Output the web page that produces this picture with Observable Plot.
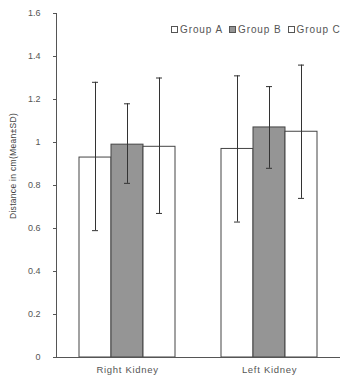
<!DOCTYPE html>
<html>
<head>
<meta charset="utf-8">
<script src="https://cdn.jsdelivr.net/npm/d3@7"></script>
<script src="https://cdn.jsdelivr.net/npm/@observablehq/plot@0.6"></script>
<style>
  html, body { margin: 0; padding: 0; background: #fff; }
  #wrap { position: relative; width: 345px; height: 381px; overflow: hidden; }
  #legend { position: absolute; top: 24px; left: 171px; font: 10px "Liberation Sans", Arial, sans-serif; letter-spacing: 0.9px; color: #555; white-space: nowrap; display: flex; align-items: center; }
  #legend span.sw { display: inline-block; width: 7px; height: 7px; border: 1px solid #555; margin-right: 2px; box-sizing: border-box; }
  #legend span.item { display: inline-flex; align-items: center; margin-right: 6px; }
  #ylabel { position: absolute; left: 13px; top: 166px; transform: translate(-50%, -50%) rotate(-90deg); font: 8.5px "Liberation Sans", Arial, sans-serif; letter-spacing: 0.3px; color: #444; white-space: nowrap; }
  svg [aria-label="fx-axis tick label"] { font-size: 9.5px; letter-spacing: 0.7px; }
</style>
</head>
<body>
<div id="wrap"><div id="legend"></div><div id="ylabel"></div></div>
<script>
const kidneys = ["Right Kidney", "Left Kidney"];
const groups = ["Group A", "Group B", "Group C"];
const groupFills = ["#ffffff", "#959595", "#ffffff"];
const rightMean = [0.93, 0.99, 0.98];
const rightLow  = [0.59, 0.81, 0.67];
const rightHigh = [1.28, 1.18, 1.30];
const leftMean  = [0.97, 1.07, 1.05];
const leftLow   = [0.63, 0.88, 0.74];
const leftHigh  = [1.31, 1.26, 1.36];
const yTicks = [0, 0.2, 0.4, 0.6, 0.8, 1, 1.2, 1.4, 1.6];
const yTitle = "Distance in cm(Mean±SD)";

const table = [];
groups.forEach((g, i) => {
  table.push({kidney: kidneys[0], group: g, mean: rightMean[i], low: rightLow[i], high: rightHigh[i]});
  table.push({kidney: kidneys[1], group: g, mean: leftMean[i], low: leftLow[i], high: leftHigh[i]});
});

const chart = Plot.plot({
  width: 345,
  height: 381,
  marginTop: 13,
  marginBottom: 24,
  marginLeft: 55,
  marginRight: 5,
  style: {fontFamily: "'Liberation Sans', Arial, sans-serif", fontSize: "9px", color: "#555", background: "white", overflow: "visible"},
  fx: {domain: kidneys, paddingInner: 0, paddingOuter: 0, label: null, tickSize: 0, tickPadding: 9},
  x: {domain: groups, paddingInner: 0, paddingOuter: 0.659, axis: null},
  y: {domain: [0, 1.6], ticks: yTicks, tickFormat: d => String(d), tickSize: 3, tickPadding: 13, line: true, label: null},
  color: {domain: groups, range: groupFills},
  marks: [
    Plot.barY(table, {fx: "kidney", x: "group", y: "mean", fill: "group", stroke: "#444", strokeWidth: 1}),
    Plot.ruleY([0], {stroke: "#555"}),
    Plot.ruleX(table, {fx: "kidney", x: "group", y1: "low", y2: "high", stroke: "#333", strokeWidth: 1}),
    Plot.tickY(table, {fx: "kidney", x: "group", y: "low", insetLeft: 13, insetRight: 13, stroke: "#333"}),
    Plot.tickY(table, {fx: "kidney", x: "group", y: "high", insetLeft: 13, insetRight: 13, stroke: "#333"})
  ]
});
document.getElementById("wrap").prepend(chart);
document.getElementById("ylabel").textContent = yTitle;

const legend = document.getElementById("legend");
groups.forEach((g, i) => {
  const item = document.createElement("span");
  item.className = "item";
  const sw = document.createElement("span");
  sw.className = "sw";
  sw.style.background = groupFills[i];
  item.appendChild(sw);
  item.appendChild(document.createTextNode(g));
  legend.appendChild(item);
});
</script>
</body>
</html>
